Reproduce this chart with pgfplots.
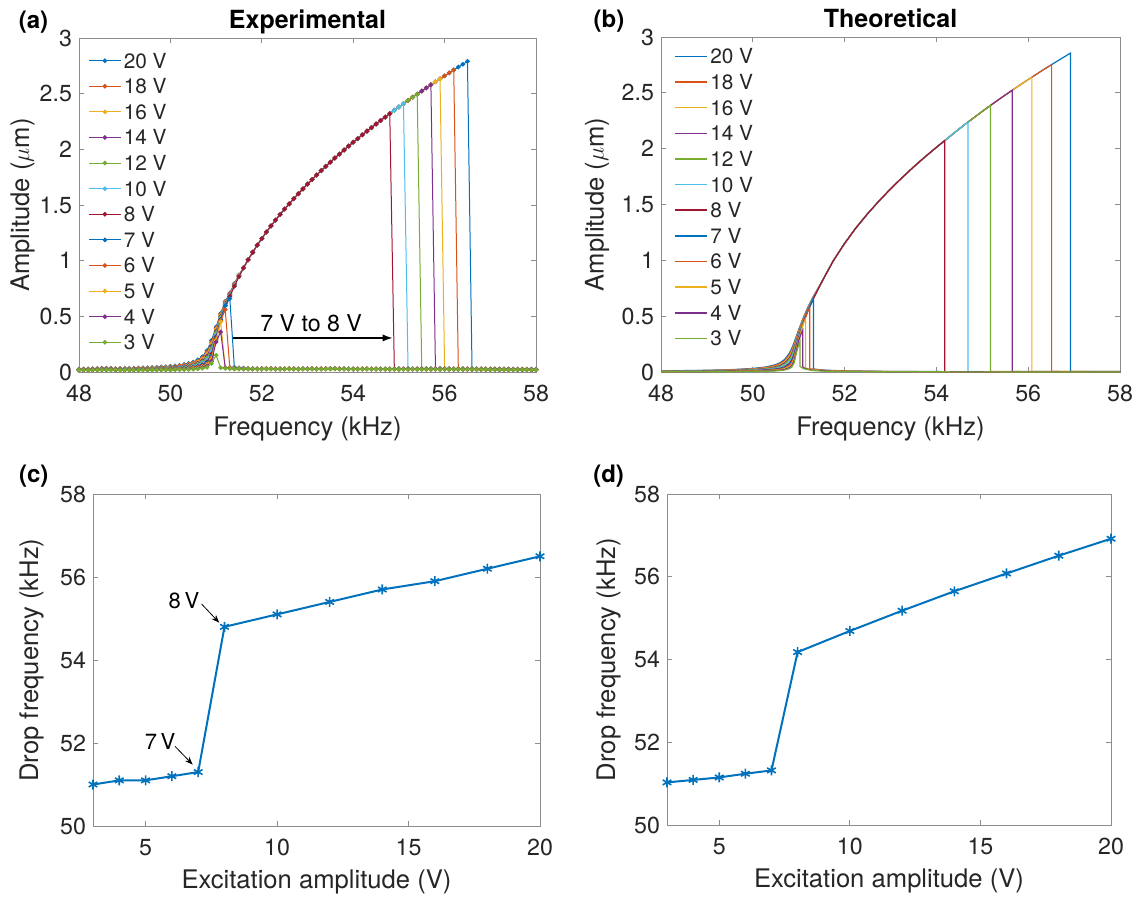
\documentclass[border=0pt]{standalone}
\usepackage{fontspec}
\setmainfont{TeX Gyre Heros}
\usepackage{pgfplots}
\pgfplotsset{compat=1.18}
\usepackage{pgfplotstable}
\usetikzlibrary{arrows.meta}

\definecolor{c1}{rgb}{0,0.447,0.741}
\definecolor{c2}{rgb}{0.850,0.325,0.098}
\definecolor{c3}{rgb}{0.929,0.694,0.125}
\definecolor{c4}{rgb}{0.494,0.184,0.556}
\definecolor{c5}{rgb}{0.466,0.674,0.188}
\definecolor{c6}{rgb}{0.301,0.745,0.933}
\definecolor{c7}{rgb}{0.635,0.078,0.184}
\definecolor{txt}{rgb}{0.15,0.15,0.15}

\tikzset{
  plab/.style={anchor=base west, font=\bfseries\fontsize{12}{14}\selectfont},
  ptitle/.style={anchor=base, font=\bfseries\fontsize{12.5}{15}\selectfont},
}

\pgfplotsset{
  panel/.style={
    scale only axis, anchor=south west, clip mode=individual,
    axis line style={black!45, line width=0.5pt},
    tick style={black!45, line width=0.5pt},
    major tick length=2.5pt,
    ticklabel style={font=\fontsize{11.6}{13}\selectfont, text=txt},
    xticklabel style={yshift=-3pt},
    label style={font=\fontsize{12.8}{15}\selectfont, text=txt},
    /pgf/number format/assume math mode=true,
  },
  sweep/.style={
    xmin=48, xmax=58, ymin=0, ymax=3,
    xtick={48,50,52,54,56,58}, ytick={0,0.5,1,1.5,2,2.5,3},
    xlabel={Frequency (kHz)}, ylabel={Amplitude ($\mu$m)},
    xlabel style={at={(axis description cs:0.5,-0.19)}, anchor=base},
    legend cell align=left,
  },
  drop/.style={
    xmin=3, xmax=20, ymin=50, ymax=58,
    xtick={5,10,15,20}, ytick={50,52,54,56,58},
    xlabel={Excitation amplitude (V)}, ylabel={Drop frequency (kHz)},
    xlabel style={at={(axis description cs:0.5,-0.188)}, anchor=base},
  },
}

% experimental sweeps, one column per drive voltage
\pgfplotstableread{
f v20 v18 v16 v14 v12 v10 v8 v7 v6 v5 v4 v3
48.0 .026 .025 .024 .022 .021 .020 .019 .018 .018 .017 .016 .016
48.1 .027 .025 .024 .023 .022 .020 .019 .018 .018 .017 .017 .016
48.2 .028 .026 .025 .024 .022 .021 .020 .019 .018 .018 .017 .017
48.3 .029 .028 .026 .025 .023 .022 .021 .020 .019 .018 .018 .017
48.4 .031 .030 .028 .027 .025 .024 .022 .021 .020 .019 .019 .018
48.5 .033 .031 .030 .028 .027 .025 .023 .022 .021 .020 .019 .019
48.6 .034 .032 .030 .029 .027 .025 .024 .023 .022 .021 .020 .019
48.7 .032 .031 .029 .028 .026 .025 .023 .022 .021 .020 .019 .018
48.8 .030 .029 .028 .026 .025 .023 .022 .021 .020 .019 .018 .018
48.9 .031 .029 .028 .026 .025 .023 .022 .021 .020 .019 .018 .017
49.0 .032 .030 .029 .027 .025 .023 .021 .020 .019 .019 .018 .017
49.1 .033 .031 .029 .027 .026 .024 .022 .021 .020 .019 .018 .017
49.2 .034 .032 .030 .028 .026 .024 .022 .021 .020 .019 .018 .017
49.3 .035 .033 .031 .029 .027 .025 .023 .021 .020 .019 .018 .017
49.4 .037 .035 .032 .030 .028 .025 .023 .022 .021 .020 .019 .017
49.5 .038 .036 .033 .031 .029 .026 .024 .023 .021 .020 .019 .018
49.6 .040 .037 .035 .032 .030 .027 .024 .023 .022 .021 .019 .018
49.7 .042 .039 .036 .034 .031 .028 .025 .024 .022 .021 .020 .018
49.8 .045 .041 .038 .035 .032 .029 .026 .025 .023 .022 .020 .019
49.9 .047 .044 .041 .037 .034 .031 .027 .026 .024 .022 .021 .019
50.0 .051 .047 .043 .040 .036 .032 .029 .027 .025 .023 .021 .019
50.1 .055 .051 .047 .043 .039 .034 .030 .028 .026 .024 .022 .020
50.2 .060 .056 .051 .046 .042 .037 .032 .030 .028 .026 .023 .021
50.3 .067 .062 .056 .051 .046 .040 .035 .033 .030 .027 .025 .022
50.4 .076 .070 .064 .057 .051 .045 .039 .036 .033 .030 .026 .023
50.5 .089 .082 .074 .067 .059 .052 .044 .040 .037 .033 .029 .025
50.6 .109 .099 .090 .080 .071 .061 .052 .047 .042 .038 .033 .028
50.7 .137 .126 .114 .102 .090 .078 .065 .059 .052 .046 .040 .033
50.8 .192 .175 .159 .143 .126 .108 .090 .081 .071 .062 .052 .042
50.9 .284 .268 .251 .232 .212 .189 .162 .148 .132 .115 .097 .077
51.0 .405 .394 .381 .367 .352 .335 .317 .307 .295 .283 .270 .150
51.1 .527 .519 .510 .501 .492 .482 .471 .466 .460 .450 .360 .038
51.2 .635 .629 .623 .617 .610 .604 .597 .594 .560 .040 .037 .032
51.3 .710 .705 .700 .695 .690 .685 .680 .660 .040 .036 .033 .030
51.4 .795 .790 .786 .782 .778 .774 .770 .042 .034 .032 .029 .028
51.5 .872 .869 .866 .863 .861 .858 .856 .037 .031 .030 .028 .027
51.6 .935 .935 .935 .935 .935 .935 .935 .034 .030 .029 .028 .027
51.7 1.008 1.008 1.008 1.008 1.008 1.008 1.008 .032 .030 .029 .028 .027
51.8 1.075 1.075 1.075 1.075 1.075 1.075 1.075 .031 .029 .028 .027 .027
51.9 1.139 1.139 1.139 1.139 1.139 1.139 1.139 .030 .029 .028 .027 .026
52.0 1.199 1.199 1.199 1.199 1.199 1.199 1.199 .031 .030 .028 .028 .027
52.1 1.257 1.257 1.257 1.257 1.257 1.257 1.257 .032 .031 .029 .028 .028
52.2 1.312 1.312 1.312 1.312 1.312 1.312 1.312 .031 .030 .029 .028 .027
52.3 1.364 1.364 1.364 1.364 1.364 1.364 1.364 .030 .029 .028 .027 .026
52.4 1.415 1.415 1.415 1.415 1.415 1.415 1.415 .029 .029 .028 .027 .026
52.5 1.464 1.464 1.464 1.464 1.464 1.464 1.464 .030 .029 .028 .027 .026
52.6 1.511 1.511 1.511 1.511 1.511 1.511 1.511 .031 .030 .029 .028 .027
52.7 1.557 1.557 1.557 1.557 1.557 1.557 1.557 .030 .029 .028 .027 .026
52.8 1.602 1.602 1.602 1.602 1.602 1.602 1.602 .029 .028 .027 .026 .026
52.9 1.645 1.645 1.645 1.645 1.645 1.645 1.645 .030 .029 .028 .027 .026
53.0 1.688 1.688 1.688 1.688 1.688 1.688 1.688 .031 .030 .029 .028 .027
53.1 1.729 1.729 1.729 1.729 1.729 1.729 1.729 .031 .030 .029 .028 .027
53.2 1.769 1.769 1.769 1.769 1.769 1.769 1.769 .030 .029 .028 .027 .026
53.3 1.809 1.809 1.809 1.809 1.809 1.809 1.809 .030 .029 .028 .027 .026
53.4 1.847 1.847 1.847 1.847 1.847 1.847 1.847 .031 .030 .029 .028 .027
53.5 1.885 1.885 1.885 1.885 1.885 1.885 1.885 .032 .031 .030 .029 .028
53.6 1.922 1.922 1.922 1.922 1.922 1.922 1.922 .032 .031 .030 .029 .028
53.7 1.958 1.958 1.958 1.958 1.958 1.958 1.958 .031 .030 .029 .028 .027
53.8 1.994 1.994 1.994 1.994 1.994 1.994 1.994 .030 .029 .028 .027 .026
53.9 2.029 2.029 2.029 2.029 2.029 2.029 2.029 .029 .028 .027 .027 .026
54.0 2.064 2.064 2.064 2.064 2.064 2.064 2.064 .029 .028 .027 .026 .026
54.1 2.097 2.097 2.097 2.097 2.097 2.097 2.097 .029 .028 .027 .026 .025
54.2 2.131 2.131 2.131 2.131 2.131 2.131 2.131 .030 .029 .028 .027 .026
54.3 2.164 2.164 2.164 2.164 2.164 2.164 2.164 .030 .029 .028 .027 .026
54.4 2.196 2.196 2.196 2.196 2.196 2.196 2.196 .029 .028 .027 .026 .025
54.5 2.228 2.228 2.228 2.228 2.228 2.228 2.228 .029 .028 .027 .026 .025
54.6 2.259 2.259 2.259 2.259 2.259 2.259 2.259 .028 .028 .027 .026 .025
54.7 2.290 2.290 2.290 2.290 2.290 2.290 2.290 .028 .027 .026 .026 .025
54.8 2.321 2.321 2.321 2.321 2.321 2.321 2.321 .028 .027 .026 .025 .025
54.9 2.351 2.351 2.351 2.351 2.351 2.351 .030 .028 .027 .026 .025 .025
55.0 2.381 2.381 2.381 2.381 2.381 2.381 .029 .028 .027 .026 .025 .024
55.1 2.410 2.410 2.410 2.410 2.410 2.410 .029 .028 .027 .026 .025 .024
55.2 2.439 2.439 2.439 2.439 2.439 .031 .029 .028 .027 .026 .025 .024
55.3 2.468 2.468 2.468 2.468 2.468 .030 .028 .028 .027 .026 .025 .024
55.4 2.496 2.496 2.496 2.496 2.496 .029 .028 .027 .027 .026 .025 .024
55.5 2.524 2.524 2.524 2.524 .031 .029 .028 .027 .026 .026 .025 .024
55.6 2.552 2.552 2.552 2.552 .030 .029 .028 .027 .026 .025 .025 .024
55.7 2.580 2.580 2.580 2.580 .030 .029 .028 .027 .026 .025 .025 .024
55.8 2.607 2.607 2.607 .031 .030 .029 .028 .027 .026 .025 .025 .024
55.9 2.634 2.634 2.634 .030 .029 .029 .028 .027 .026 .025 .025 .024
56.0 2.660 2.660 .031 .029 .029 .028 .028 .027 .026 .025 .024 .024
56.1 2.687 2.687 .030 .029 .028 .028 .027 .027 .026 .025 .024 .024
56.2 2.713 2.713 .029 .029 .028 .028 .027 .026 .026 .025 .024 .024
56.3 2.739 .031 .029 .028 .028 .027 .027 .026 .025 .025 .024 .024
56.4 2.764 .030 .029 .028 .028 .027 .027 .026 .025 .025 .024 .023
56.5 2.790 .029 .028 .028 .027 .027 .026 .026 .025 .024 .024 .023
56.6 .031 .028 .028 .027 .027 .026 .026 .025 .025 .024 .023 .023
56.7 .029 .028 .027 .027 .026 .026 .025 .025 .024 .024 .023 .023
56.8 .028 .027 .027 .026 .026 .025 .025 .024 .024 .023 .023 .022
56.9 .028 .027 .026 .026 .025 .025 .024 .024 .023 .023 .022 .022
57.0 .027 .027 .026 .025 .025 .024 .024 .023 .023 .022 .022 .022
57.1 .027 .026 .026 .025 .025 .024 .024 .023 .023 .022 .022 .021
57.2 .027 .026 .025 .025 .024 .024 .023 .023 .022 .022 .021 .021
57.3 .026 .026 .025 .025 .024 .023 .023 .022 .022 .021 .021 .021
57.4 .026 .025 .025 .024 .024 .023 .023 .022 .022 .021 .021 .020
57.5 .026 .025 .025 .024 .023 .023 .022 .022 .021 .021 .021 .020
57.6 .025 .025 .024 .024 .023 .023 .022 .022 .021 .021 .020 .020
57.7 .025 .025 .024 .023 .023 .022 .022 .021 .021 .021 .020 .020
57.8 .025 .024 .024 .023 .023 .022 .022 .021 .021 .020 .020 .020
57.9 .025 .024 .024 .023 .022 .022 .021 .021 .021 .020 .020 .019
58.0 .024 .024 .023 .023 .022 .022 .021 .021 .020 .020 .020 .019
}\expdata

\begin{document}
\begin{tikzpicture}
\path[use as bounding box] (0pt,0pt) rectangle (569pt,-448pt);

% (a) experimental
\begin{axis}[panel, sweep, at={(39.5pt,-186pt)}, width=228.5pt, height=167pt,
  ylabel style={at={(axis description cs:-0.109,0.5)}, anchor=base},
  legend style={draw=none, fill=none, at={(axis description cs:0.0197,0.963)}, anchor=north west,
    font=\fontsize{10.4}{12}\selectfont, text=txt, inner sep=0pt, row sep=2.9pt,
    nodes={inner sep=1.2pt, text height=7.5pt, text depth=0pt}},
  legend image code/.code={\draw[mark repeat=2, mark phase=2] plot coordinates {(0pt,0pt) (8pt,0pt) (16pt,0pt)};},
  every axis plot/.append style={line width=0.5pt, mark=*, mark size=0.9pt},
]
\addplot[c1, mark options={fill=c1}] table[x=f, y=v20] {\expdata};
\addplot[c2, mark options={fill=c2}] table[x=f, y=v18] {\expdata};
\addplot[c3, mark options={fill=c3}] table[x=f, y=v16] {\expdata};
\addplot[c4, mark options={fill=c4}] table[x=f, y=v14] {\expdata};
\addplot[c5, mark options={fill=c5}] table[x=f, y=v12] {\expdata};
\addplot[c6, mark options={fill=c6}] table[x=f, y=v10] {\expdata};
\addplot[c7, mark options={fill=c7}] table[x=f, y=v8] {\expdata};
\addplot[c1, mark options={fill=c1}] table[x=f, y=v7] {\expdata};
\addplot[c2, mark options={fill=c2}] table[x=f, y=v6] {\expdata};
\addplot[c3, mark options={fill=c3}] table[x=f, y=v5] {\expdata};
\addplot[c4, mark options={fill=c4}] table[x=f, y=v4] {\expdata};
\addplot[c5, mark options={fill=c5}] table[x=f, y=v3] {\expdata};
\legend{20 V,18 V,16 V,14 V,12 V,10 V,8 V,7 V,6 V,5 V,4 V,3 V}
\draw[-{Latex[length=5pt,width=3.6pt]}, line width=0.6pt] (axis cs:51.37,0.306) -- (axis cs:54.86,0.306);
\node[anchor=base, font=\fontsize{11.6}{13}\selectfont] at (axis cs:53.08,0.36) {7 V to 8 V};
\node[ptitle] at (axis description cs:0.5,1.029) {Experimental};
\node[plab] at (axis description cs:-0.147,1.029) {(a)};
\end{axis}

% (b) theoretical
\begin{axis}[panel, sweep, at={(330.5pt,-186pt)}, width=229.5pt, height=167.5pt,
  ylabel style={at={(axis description cs:-0.125,0.5)}, anchor=base},
  legend style={draw=none, fill=none, at={(axis description cs:0.0283,0.973)}, anchor=north west,
    font=\fontsize{10.4}{12}\selectfont, text=txt, inner sep=0pt, row sep=2.92pt,
    nodes={inner sep=1.2pt, text height=7.5pt, text depth=0pt}},
  legend image code/.code={\draw[line width=0.75pt] (0pt,0pt) -- (16pt,0pt);},
  every axis plot/.append style={line width=0.6pt},
]
\addplot[c1] coordinates {(48,.010) (49,.0154) (49.5,.0207) (50,.0316) (50.3,.046) (50.5,.066) (50.6,.084) (50.7,.115) (50.8,.17) (50.85,.213) (50.9,.265) (50.95,.322) (51,.38) (51.1,.485) (51.2,.58) (51.3,.663)
  (51.5,.805) (51.75,.994) (52,1.152) (52.25,1.292) (52.5,1.417) (52.75,1.532) (53,1.640) (53.25,1.740) (53.5,1.835) (53.75,1.926) (54,2.012) (54.18,2.072) (54.45,2.162) (54.69,2.239) (54.95,2.319) (55.18,2.388) (55.42,2.458) (55.65,2.523) (55.88,2.587) (56.08,2.640) (56.3,2.699) (56.51,2.753) (56.72,2.806) (56.92,2.856)
  (56.92,.005) (57.5,.0046) (58,.0043)};
\addplot[c2] coordinates {(48,.009) (49,.0138) (49.5,.0186) (50,.0284) (50.3,.0415) (50.5,.060) (50.6,.077) (50.7,.104) (50.8,.157) (50.85,.2) (50.9,.251) (50.95,.311) (51,.37) (51.1,.481) (51.2,.575) (51.3,.66)
  (51.5,.805) (51.75,.994) (52,1.152) (52.25,1.292) (52.5,1.417) (52.75,1.532) (53,1.640) (53.25,1.740) (53.5,1.835) (53.75,1.926) (54,2.012) (54.18,2.072) (54.45,2.162) (54.69,2.239) (54.95,2.319) (55.18,2.388) (55.42,2.458) (55.65,2.523) (55.88,2.587) (56.08,2.640) (56.3,2.699) (56.51,2.753)
  (56.51,.0048) (57.2,.0043) (58,.0038)};
\addplot[c3] coordinates {(48,.008) (49,.0123) (49.5,.0166) (50,.0253) (50.3,.037) (50.5,.053) (50.6,.068) (50.7,.093) (50.8,.142) (50.85,.185) (50.9,.238) (50.95,.299) (51,.36) (51.1,.473) (51.2,.57) (51.3,.656)
  (51.5,.805) (51.75,.994) (52,1.152) (52.25,1.292) (52.5,1.417) (52.75,1.532) (53,1.640) (53.25,1.740) (53.5,1.835) (53.75,1.926) (54,2.012) (54.18,2.072) (54.45,2.162) (54.69,2.239) (54.95,2.319) (55.18,2.388) (55.42,2.458) (55.65,2.523) (55.88,2.587) (56.08,2.640)
  (56.08,.0047) (57,.0039) (58,.0034)};
\addplot[c4] coordinates {(48,.007) (49,.0108) (49.5,.0145) (50,.0221) (50.3,.032) (50.5,.047) (50.6,.060) (50.7,.082) (50.8,.127) (50.85,.168) (50.9,.222) (50.95,.286) (51,.35) (51.1,.466) (51.2,.565) (51.3,.652)
  (51.5,.805) (51.75,.994) (52,1.152) (52.25,1.292) (52.5,1.417) (52.75,1.532) (53,1.640) (53.25,1.740) (53.5,1.835) (53.75,1.926) (54,2.012) (54.18,2.072) (54.45,2.162) (54.69,2.239) (54.95,2.319) (55.18,2.388) (55.42,2.458) (55.65,2.523)
  (55.65,.0045) (57,.0035) (58,.003)};
\addplot[c5] coordinates {(48,.006) (49,.0092) (49.5,.0124) (50,.0189) (50.3,.028) (50.5,.040) (50.6,.051) (50.7,.071) (50.8,.112) (50.85,.15) (50.9,.205) (50.95,.271) (51,.338) (51.1,.458) (51.2,.56) (51.3,.648)
  (51.5,.805) (51.75,.994) (52,1.152) (52.25,1.292) (52.5,1.417) (52.75,1.532) (53,1.640) (53.25,1.740) (53.5,1.835) (53.75,1.926) (54,2.012) (54.18,2.072) (54.45,2.162) (54.69,2.239) (54.95,2.319) (55.18,2.388)
  (55.18,.0042) (56.5,.0032) (58,.0026)};
\addplot[c6] coordinates {(48,.005) (49,.0077) (49.5,.0103) (50,.0158) (50.3,.023) (50.5,.033) (50.6,.043) (50.7,.060) (50.8,.095) (50.85,.13) (50.9,.185) (50.95,.256) (51,.327) (51.1,.451) (51.2,.555) (51.3,.644)
  (51.5,.805) (51.75,.994) (52,1.152) (52.25,1.292) (52.5,1.417) (52.75,1.532) (53,1.640) (53.25,1.740) (53.5,1.835) (53.75,1.926) (54,2.012) (54.18,2.072) (54.45,2.162) (54.69,2.239)
  (54.69,.004) (56,.0029) (58,.0021)};
\addplot[c7] coordinates {(48,.004) (49,.0062) (49.5,.0083) (50,.0126) (50.3,.0185) (50.5,.027) (50.6,.034) (50.7,.048) (50.8,.078) (50.85,.108) (50.9,.162) (50.95,.237) (51,.313) (51.1,.443) (51.2,.55) (51.3,.64)
  (51.5,.805) (51.75,.994) (52,1.152) (52.25,1.292) (52.5,1.417) (52.75,1.532) (53,1.640) (53.25,1.740) (53.5,1.835) (53.75,1.926) (54,2.012) (54.18,2.072)
  (54.18,.0037) (55,.003) (56,.0024) (58,.0017)};
\addplot[c1] coordinates {(48,.0036) (49,.0054) (49.5,.0072) (50,.0111) (50.3,.016) (50.5,.023) (50.6,.030) (50.7,.042) (50.8,.069) (50.85,.096) (50.9,.15) (50.95,.227) (51,.306) (51.1,.44) (51.2,.547) (51.3,.638) (51.32,.66)
  (51.32,.028) (51.4,.023) (51.6,.016) (52,.010) (53,.0051) (55,.0026) (58,.0015)};
\addplot[c2] coordinates {(48,.003) (49,.0046) (49.5,.0062) (50,.0095) (50.3,.014) (50.5,.020) (50.6,.026) (50.7,.036) (50.8,.06) (50.85,.084) (50.9,.135) (50.95,.215) (51,.298) (51.1,.436) (51.2,.544) (51.24,.575)
  (51.24,.031) (51.3,.026) (51.5,.016) (52,.0086) (53,.0044) (55,.0022) (58,.0013)};
\addplot[c3] coordinates {(48,.0025) (49,.0038) (49.5,.0052) (50,.0079) (50.3,.0115) (50.5,.017) (50.6,.021) (50.7,.030) (50.8,.05) (50.85,.071) (50.9,.12) (50.95,.203) (51,.29) (51.1,.43) (51.15,.47)
  (51.15,.036) (51.25,.025) (51.5,.014) (52,.0071) (53,.0037) (55,.0019) (58,.0011)};
\addplot[c4] coordinates {(48,.002) (49,.0031) (49.5,.0041) (50,.0063) (50.3,.0092) (50.5,.013) (50.6,.017) (50.7,.024) (50.8,.04) (50.85,.058) (50.9,.103) (50.95,.188) (51,.282) (51.05,.34) (51.09,.375)
  (51.09,.045) (51.15,.03) (51.3,.017) (51.6,.0092) (52,.0057) (53,.003) (55,.0015) (58,.0009)};
\addplot[c5] coordinates {(48,.0015) (49,.0023) (49.5,.0031) (50,.0047) (50.3,.0069) (50.5,.010) (50.6,.013) (50.7,.018) (50.8,.03) (50.85,.044) (50.9,.082) (50.95,.171) (50.99,.23) (51.03,.275)
  (51.03,.05) (51.1,.03) (51.3,.013) (51.6,.0069) (52,.0043) (53,.0022) (55,.0011) (58,.0007)};
\legend{20 V,18 V,16 V,14 V,12 V,10 V,8 V,7 V,6 V,5 V,4 V,3 V}
\node[ptitle] at (axis description cs:0.5,1.029) {Theoretical};
\node[plab] at (axis description cs:-0.162,1.029) {(b)};
\end{axis}

% (c) experimental drop frequency
\begin{axis}[panel, drop, at={(46.5pt,-413pt)}, width=223.5pt, height=166pt,
  ylabel style={at={(axis description cs:-0.123,0.5)}, anchor=base},
]
\addplot[c1, line width=1pt, mark=asterisk, mark size=2.5pt, mark options={line width=0.8pt}] coordinates {
  (3,51.0) (4,51.1) (5,51.1) (6,51.2) (7,51.3) (8,54.8) (10,55.1) (12,55.4) (14,55.7) (16,55.9) (18,56.2) (20,56.5)};
\node[anchor=base, font=\fontsize{11}{13}\selectfont] at (axis cs:6.46,55.24) {8\,V};
\draw[-{Stealth[length=4pt,width=3pt]}, line width=0.4pt] (axis cs:7.13,55.35) -- (axis cs:7.80,54.90);
\node[anchor=base, font=\fontsize{11}{13}\selectfont] at (axis cs:5.55,51.84) {7\,V};
\draw[-{Stealth[length=4pt,width=3pt]}, line width=0.4pt] (axis cs:6.12,51.92) -- (axis cs:6.79,51.48);
\node[plab] at (axis description cs:-0.181,1.036) {(c)};
\end{axis}

% (d) theoretical drop frequency
\begin{axis}[panel, drop, at={(333.5pt,-412.5pt)}, width=222pt, height=165.5pt,
  ylabel style={at={(axis description cs:-0.117,0.5)}, anchor=base},
]
\addplot[c1, line width=1pt, mark=asterisk, mark size=2.5pt, mark options={line width=0.8pt}] coordinates {
  (3,51.03) (4,51.09) (5,51.15) (6,51.24) (7,51.32) (8,54.18) (10,54.69) (12,55.18) (14,55.65) (16,56.08) (18,56.51) (20,56.92)};
\node[plab] at (axis description cs:-0.182,1.036) {(d)};
\end{axis}
\end{tikzpicture}
\end{document}
